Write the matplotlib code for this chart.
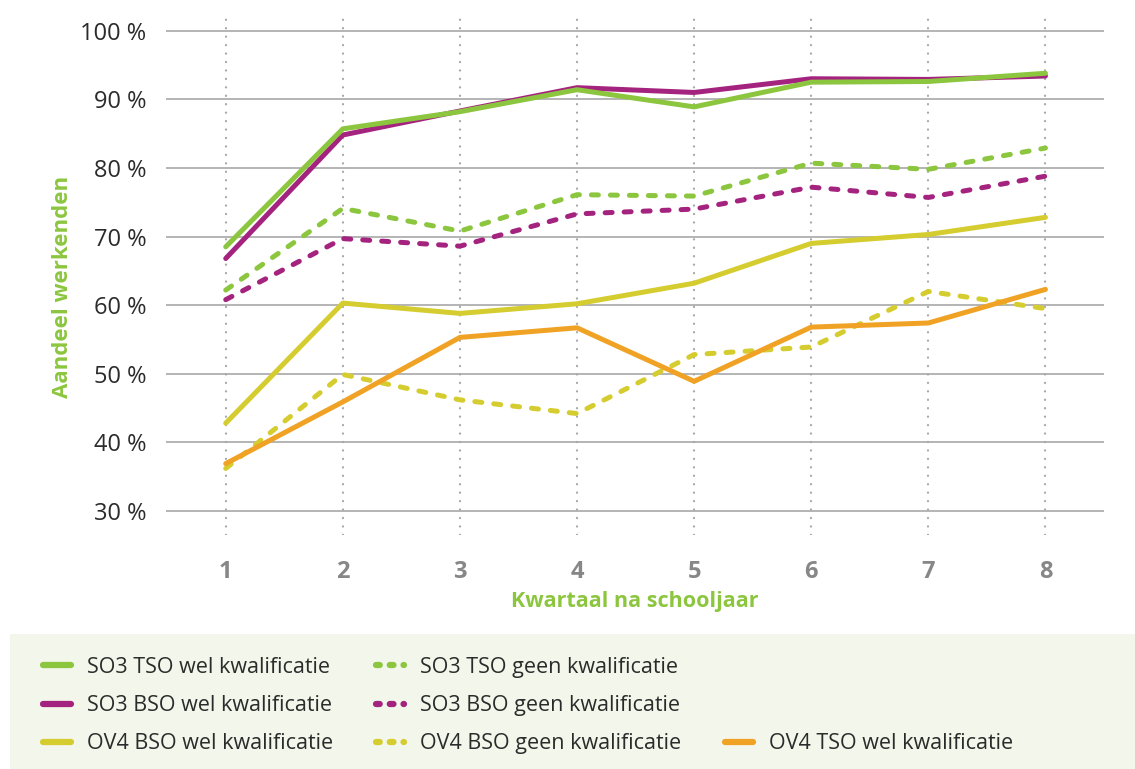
import matplotlib
matplotlib.use("Agg")
import matplotlib.pyplot as plt
from matplotlib.lines import Line2D
from matplotlib.patches import Rectangle

plt.rcParams['font.family'] = ['Open Sans', 'DejaVu Sans']

# kwartaal na schooljaar
kwartaal = [1, 2, 3, 4, 5, 6, 7, 8]

so3_tso_wel = [68.5, 85.7, 88.2, 91.4, 88.9, 92.5, 92.6, 93.8]
so3_tso_geen = [62.2, 74.1, 70.8, 76.1, 75.9, 80.7, 79.8, 82.9]
so3_bso_wel = [66.8, 84.8, 88.3, 91.7, 91.0, 93.0, 92.9, 93.4]
so3_bso_geen = [60.8, 69.7, 68.6, 73.3, 74.0, 77.2, 75.7, 78.8]
ov4_bso_wel = [42.8, 60.3, 58.8, 60.2, 63.2, 69.0, 70.3, 72.8]
ov4_bso_geen = [36.2, 49.9, 46.2, 44.2, 52.8, 53.9, 62.0, 59.5]
ov4_tso_wel = [36.9, 45.9, 55.3, 56.7, 48.9, 56.8, 57.4, 62.3]

yticks = [30, 40, 50, 60, 70, 80, 90, 100]
ytick_labels = ['30 %', '40 %', '50 %', '60 %', '70 %', '80 %', '90 %', '100 %']

GREEN = '#8cc63f'
PURPLE = '#a4237f'
YELLOW = '#d5cd30'
ORANGE = '#f0a224'

fig = plt.figure(figsize=(11.35, 7.69), dpi=100)
fig.patch.set_facecolor('white')

# light legend background panel
fig.patches.append(Rectangle((10/1135, 0), 1 - 10/1135, 135/769, transform=fig.transFigure,
                             facecolor='#f3f6ea', edgecolor='none', zorder=0))

ax = fig.add_axes([166/1135, 1 - 535/769, (1104 - 166)/1135, (535 - 17)/769])
ax.set_facecolor('none')

lw = 3.6
dash = (0, (1.4, 2.4))
kw_solid = dict(lw=lw, solid_capstyle='round', solid_joinstyle='round')
kw_dash = dict(lw=lw, linestyle=dash, dash_capstyle='round', dash_joinstyle='round')

ax.plot(kwartaal, ov4_bso_geen, color=YELLOW, **kw_dash, zorder=3)
ax.plot(kwartaal, ov4_tso_wel, color=ORANGE, **kw_solid, zorder=4)
ax.plot(kwartaal, ov4_bso_wel, color=YELLOW, **kw_solid, zorder=4)
ax.plot(kwartaal, so3_bso_geen, color=PURPLE, **kw_dash, zorder=3)
ax.plot(kwartaal, so3_tso_geen, color=GREEN, **kw_dash, zorder=3)
ax.plot(kwartaal, so3_bso_wel, color=PURPLE, **kw_solid, zorder=4)
ax.plot(kwartaal, so3_tso_wel, color=GREEN, **kw_solid, zorder=5)

ax.set_xlim(0.49, 8.5)
ax.set_ylim(26.5, 102)

for y in yticks:
    ax.axhline(y, color='#a0a0a0', lw=1.1, zorder=1)
for x in kwartaal:
    ax.axvline(x, color='#a8a8a8', lw=1.6, linestyle=(0, (0.1, 3.7)),
               dash_capstyle='round', zorder=1)

for s in ax.spines.values():
    s.set_visible(False)

ax.set_yticks(yticks)
ax.set_yticklabels(ytick_labels)
ax.set_xticks(kwartaal)
ax.set_xticklabels([str(k) for k in kwartaal])
ax.tick_params(axis='y', length=0, pad=14, labelsize=17, labelcolor='#2b2b2b')
ax.tick_params(axis='x', length=0, pad=18, labelsize=17, labelcolor='#878787')
for t in ax.get_xticklabels():
    t.set_fontweight('bold')

ax.set_xlabel('Kwartaal na schooljaar', color=GREEN, fontsize=15.5, fontweight='bold', labelpad=5)
fig.text(63/1135, 1 - 287/769, 'Aandeel werkenden', color=GREEN, fontsize=16, fontweight='bold',
         rotation=90, ha='center', va='center')

# legend, filled column by column
def h_solid(c):
    return Line2D([0], [0], color=c, lw=4.5, solid_capstyle='round')

def h_dash(c):
    return Line2D([0], [0], color=c, lw=4.5, linestyle=(0, (0.6, 1.6)), dash_capstyle='round')

blank = Line2D([0], [0], color='none')
handles = [h_solid(GREEN), h_solid(PURPLE), h_solid(YELLOW),
           h_dash(GREEN), h_dash(PURPLE), h_dash(YELLOW),
           blank, blank, h_solid(ORANGE)]
labels = ['SO3 TSO wel kwalificatie', 'SO3 BSO wel kwalificatie', 'OV4 BSO wel kwalificatie',
          'SO3 TSO geen kwalificatie', 'SO3 BSO geen kwalificatie', 'OV4 BSO geen kwalificatie',
          '', '', 'OV4 TSO wel kwalificatie']
leg = fig.legend(handles, labels, ncol=3, loc='upper left', bbox_to_anchor=(43/1135, 1 - 657/769),
                 frameon=False, fontsize=15.5, handlelength=1.3, handletextpad=0.75,
                 columnspacing=2.0, labelspacing=0.8, borderaxespad=0, borderpad=0)
for t in leg.get_texts():
    t.set_color('#2b2b2b')

fig.savefig('out.png', dpi=100)
